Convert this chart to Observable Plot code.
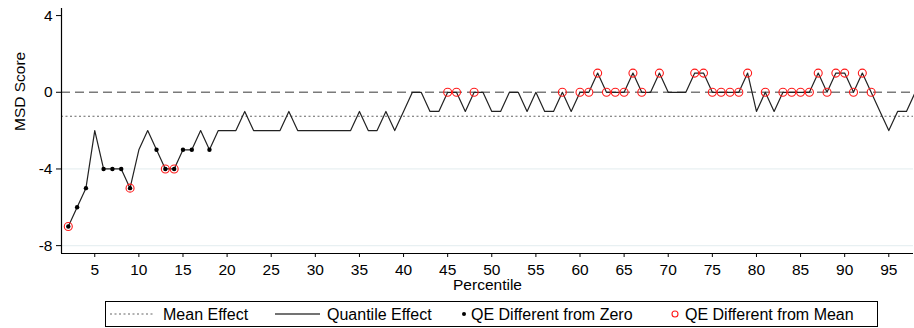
<!DOCTYPE html>
<html>
<head>
<meta charset="utf-8">
<script src="https://cdn.jsdelivr.net/npm/d3@7"></script>
<script src="https://cdn.jsdelivr.net/npm/@observablehq/plot@0.6"></script>
<style>
  html, body { margin: 0; padding: 0; background: #fff; }
  body { font-family: "Liberation Sans", Arial, sans-serif; }
  #wrap { width: 914px; height: 328px; overflow: hidden; }
  #legend text { font-family: "Liberation Sans", Arial, sans-serif; font-size: 16px; fill: #000; }
</style>
</head>
<body>
<div id="wrap">
  <div id="chart"></div>
  <svg id="legend" width="914" height="32" style="display:block"></svg>
</div>
<script>
// ---- data ----
const percentiles = [2,3,4,5,6,7,8,9,10,11,12,13,14,15,16,17,18,19,20,21,22,23,24,25,26,27,28,29,30,31,32,33,34,35,36,37,38,39,40,41,42,43,44,45,46,47,48,49,50,51,52,53,54,55,56,57,58,59,60,61,62,63,64,65,66,67,68,69,70,71,72,73,74,75,76,77,78,79,80,81,82,83,84,85,86,87,88,89,90,91,92,93,94,95,96,97,98];
const msdScore = [-7,-6,-5,-2,-4,-4,-4,-5,-3,-2,-3,-4,-4,-3,-3,-2,-3,-2,-2,-2,-1,-2,-2,-2,-2,-1,-2,-2,-2,-2,-2,-2,-2,-1,-2,-2,-1,-2,-1,0,0,-1,-1,0,0,-1,0,0,-1,-1,0,0,-1,0,-1,-1,0,-1,0,0,1,0,0,0,1,0,0,1,0,0,0,1,1,0,0,0,0,1,-1,0,-1,0,0,0,0,1,0,1,1,0,1,0,-1,-2,-1,-1,0];
const diffFromZero = [2,3,4,6,7,8,9,12,13,14,15,16,18];
const diffFromMean = [2,9,13,14,45,46,48,58,60,61,62,63,64,65,66,67,69,73,74,75,76,77,78,79,81,83,84,85,86,87,88,89,90,91,92,93];
const meanEffect = -1.25;
const xTicks = [5,10,15,20,25,30,35,40,45,50,55,60,65,70,75,80,85,90,95];
const yTicks = [-8,-4,0,4];
const gridTicks = [-8,-4];
const legendLabels = ["Mean Effect", "Quantile Effect", "QE Different from Zero", "QE Different from Mean"];

// ---- build table ----
const rows = percentiles.map((p, i) => ({p, v: msdScore[i]}));
const zeroRows = rows.filter(d => diffFromZero.includes(d.p));
const meanRows = rows.filter(d => diffFromMean.includes(d.p));

const xDom = [1.23, 97.8];
const yDom = [-8.41, 4.37];
const font = "Liberation Sans, Arial, sans-serif";

const chart = Plot.plot({
  width: 914,
  height: 296,
  marginLeft: 61,
  marginRight: 1,
  marginTop: 8,
  marginBottom: 43,
  style: { fontFamily: font, fontSize: "15.5px", color: "#000", background: "#fff", overflow: "visible" },
  x: { domain: xDom, label: null },
  y: { domain: yDom, label: null },
  marks: [
    Plot.ruleY(gridTicks, { stroke: "#e8f0f2", strokeWidth: 1.2 }),
    Plot.ruleY([0], { stroke: "#7a7a7a", strokeWidth: 1.4, strokeDasharray: "9,5" }),
    Plot.ruleY([meanEffect], { stroke: "#666", strokeWidth: 1.2, strokeDasharray: "2,2.5" }),
    Plot.line(rows, { x: "p", y: "v", stroke: "#222", strokeWidth: 1.2 }),
    Plot.dot(zeroRows, { x: "p", y: "v", r: 2.2, fill: "#000", stroke: "none" }),
    Plot.dot(meanRows, { x: "p", y: "v", r: 4, fill: "none", stroke: "#ff1a1a", strokeWidth: 1.1 }),
    Plot.axisX({ ticks: xTicks, tickSize: 4, tickPadding: 6, tickFormat: d => String(d), label: null, stroke: "#000" }),
    Plot.axisY({ ticks: yTicks, tickSize: 5, tickPadding: 4, tickFormat: d => String(d), label: null, stroke: "#000" }),
    Plot.ruleX([xDom[0]], { stroke: "#000", strokeWidth: 1.2 }),
    Plot.ruleY([yDom[0]], { stroke: "#000", strokeWidth: 1.2 }),
    Plot.text(["Percentile"], { text: d => d, frameAnchor: "bottom", dy: 32, fontSize: 15.5, lineAnchor: "middle", fill: "#000" }),
    Plot.text(["MSD Score"], { text: d => d, frameAnchor: "left", dx: -41, rotate: -90, fontSize: 15.5, lineAnchor: "middle", fill: "#000" })
  ]
});
document.getElementById("chart").appendChild(chart);

// ---- legend ----
const lg = d3.select("#legend");
lg.append("rect").attr("x", 105.5).attr("y", 5.5).attr("width", 772).attr("height", 25)
  .attr("fill", "none").attr("stroke", "#000").attr("stroke-width", 1);
const cy = 18;
lg.append("line").attr("x1", 110).attr("x2", 155).attr("y1", cy).attr("y2", cy)
  .attr("stroke", "#666").attr("stroke-width", 1.2).attr("stroke-dasharray", "2,2.5");
lg.append("text").attr("x", 163).attr("y", 24).text(legendLabels[0]);
lg.append("line").attr("x1", 275).attr("x2", 320).attr("y1", cy).attr("y2", cy)
  .attr("stroke", "#444").attr("stroke-width", 1.6);
lg.append("text").attr("x", 327).attr("y", 24).text(legendLabels[1]);
lg.append("circle").attr("cx", 464).attr("cy", cy).attr("r", 2).attr("fill", "#000");
lg.append("text").attr("x", 471).attr("y", 24).text(legendLabels[2]);
lg.append("circle").attr("cx", 675).attr("cy", cy).attr("r", 3).attr("fill", "none")
  .attr("stroke", "#ff1a1a").attr("stroke-width", 1.1);
lg.append("text").attr("x", 685).attr("y", 24).text(legendLabels[3]);
</script>
</body>
</html>
